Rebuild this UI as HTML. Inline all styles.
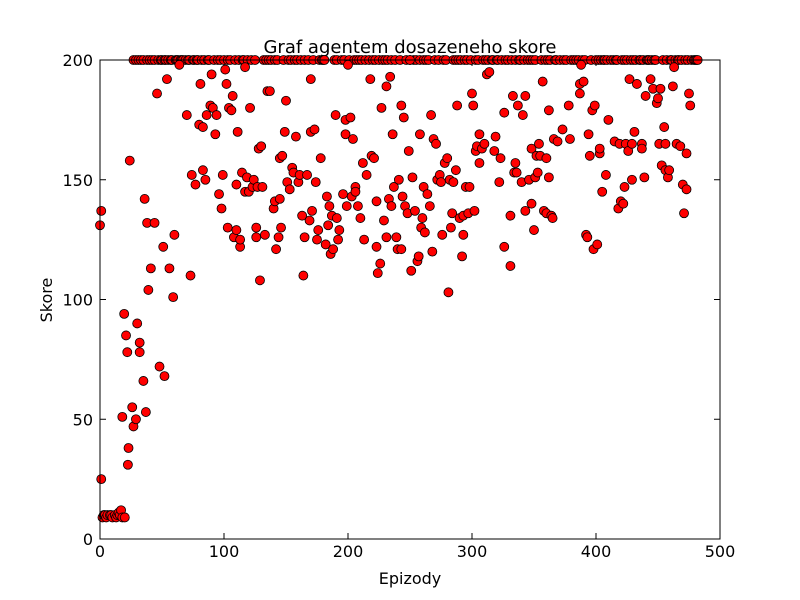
<!DOCTYPE html>
<html><head><meta charset="utf-8"><style>
body{margin:0;background:#fff}
svg{display:block;font-family:"DejaVu Sans","Liberation Sans",sans-serif}
</style></head><body>
<svg id="chart" width="800" height="600" xmlns="http://www.w3.org/2000/svg">
<rect width="800" height="600" fill="#fff"/>
<text x="410" y="53" font-size="18" text-anchor="middle">Graf agentem dosazeneho skore</text>
<text x="410" y="584" font-size="16" text-anchor="middle">Epizody</text>
<text transform="translate(52,300) rotate(-90)" font-size="16" text-anchor="middle">Skore</text>
<g id="ticks"></g>
<g id="points"></g>
<rect x="100" y="60" width="620" height="479" fill="none" stroke="#000" stroke-width="1"/>
</svg>
<script>
const xTicks=[0,100,200,300,400,500];
const yTicks=[0,50,100,150,200];
const topEpisodes=[27,29,31,33,35,38,40,42,44,47,49,50,52,53,55,57,58,61,62,63,65,66,67,69,71,72,75,76,78,79,82,84,87,88,92,95,97,100,103,105,109,112,115,116,119,122,125,132,134,136,138,141,143,148,152,154,157,159,162,165,168,172,177,179,180,181,189,191,195,197,201,205,207,209,211,214,217,220,222,225,228,230,232,235,238,242,247,250,253,255,258,261,263,265,270,273,277,279,285,287,289,291,294,296,299,303,305,309,311,313,316,317,320,321,324,327,329,332,335,338,339,342,345,347,349,351,356,359,361,363,367,368,371,374,376,380,382,384,386,389,391,396,400,402,404,406,407,409,412,414,416,417,421,423,425,428,430,432,435,436,438,441,442,443,445,447,448,454,457,460,461,464,466,467,469,472,474,477,479,480,481,482];
const episodes=[0,1,1,2,3,4,5,6,8,9,10,12,13,14,15,16,17,18,20,18,19.5,21,22,22.5,23,24,26,27,29,30,32,32,35,36,37,38,39,41,44,46,48,51,52,54,56,59,60,64,70,73,74,77,80,81,83,83,85,86,89,90,91,93,94,96,98,99,101,102,103,104,106,107,108,110,110,111,113,113,114.5,117,117,118.5,120,121,123,124,126,126,127,128,129,130,131,133,135,137,140,141,142,144,145,145,146,147,149,150,151,153,155,156,158,160,161,163,164,165,167,169,170,170,171,173,174,175,176,178,182,183,184,185,186,187,188,190,191,192,193,196,198,198,199,200,202,203,204,206,206,208,210,212,213,215,218,219,221,223,223,224,226,227,229,231,231,233,234,235,236,237,239,240,241,243,243,244,245,246,248,249,250,251,252,254,256,257,258,259,260,261,262,264,266,267,268,269,271,272,274,275,276,278,280,281,282,283,284,285,287,288,290,292,293,293,295,297,298,300,301,302,303,304,306,306,308,310,312,314,318,319,322,323,326,326,331,331,333,334,335,336,337,340,341,343,343,346,348,348,350,351,352,353,354,355,357,358,360,360,362,362,364,365,366,369,373,378,379,387,387,388,390,392,393,394,395,397,398,399,401,403,403,405,408,410,415,418,419,420,422,423,424,426,427,429,429,431,433,437,437,439,440,444,446,449,450,451,452,453,455,456,456,458,459,462,463,465,468,470,471,473,473,475,476];
const scores=[131,137,25,9,10,10,9,10,10,10,9,10,9,10,11,10,12,9,9,51,94,85,78,31,38,158,55,47,50,90,78,82,66,142,53,132,104,113,132,186,72,122,68,192,113,101,127,198,177,110,152,148,173,190,172,154,150,177,181,194,180,169,177,144,138,152,196,190,130,180,179,185,126,129,148,170,122,125,153,197,145,151,145,180,147,150,126,130,147,163,108,164,147,127,187,187,138,141,121,126,159,142,130,160,170,183,149,146,155,153,168,149,152,135,110,126,152,133,192,170,137,171,149,125,129,159,123,143,131,139,119,135,121,177,134,125,129,144,175,169,139,198,176,143,167,147,145,139,134,157,125,152,192,160,159,122,141,111,115,180,133,189,126,142,193,139,169,147,126,121,150,181,121,143,176,139,136,162,200,112,151,137,116,118,169,130,134,147,128,144,139,177,120,167,165,150,152,149,127,157,159,103,150,130,136,149,154,181,134,118,127,135,147,136,147,186,181,137,162,164,169,157,163,165,194,195,162,168,149,159,178,122,114,135,185,153,157,153,181,149,177,185,137,150,163,140,129,151,160,153,165,160,191,137,159,136,179,151,135,134,167,166,171,181,167,186,190,198,191,127,126,169,160,179,121,181,123,161,163,145,152,175,166,138,165,141,140,147,165,162,192,165,150,170,190,165,163,151,185,192,188,182,184,165,188,156,172,154,165,151,154,189,197,165,164,148,136,146,161,186,181];
const X=v=>100+v*1.24, Y=v=>539-v*2.395;
const NS="http://www.w3.org/2000/svg";
const tg=document.getElementById('ticks');
xTicks.forEach(t=>{
  const l=document.createElementNS(NS,'line');
  
  
  l.setAttribute('x1',X(t));l.setAttribute('x2',X(t));l.setAttribute('y1',539);l.setAttribute('y2',533);l.setAttribute('stroke','#000');tg.appendChild(l);
  const l2=l.cloneNode();l2.setAttribute('y1',60);l2.setAttribute('y2',66);tg.appendChild(l2);
  const tx=document.createElementNS(NS,'text');
  
  
  tx.setAttribute('x',X(t));tx.setAttribute('y',557);tx.setAttribute('font-size','16');tx.setAttribute('text-anchor','middle');tx.textContent=t;tg.appendChild(tx);
});
yTicks.forEach(t=>{
  const l=document.createElementNS(NS,'line');
  
  
  l.setAttribute('x1',100);l.setAttribute('x2',106);l.setAttribute('y1',Y(t));l.setAttribute('y2',Y(t));l.setAttribute('stroke','#000');tg.appendChild(l);
  const l2=l.cloneNode();l2.setAttribute('x1',714);l2.setAttribute('x2',720);tg.appendChild(l2);
  const tx=document.createElementNS(NS,'text');
  
  
  tx.setAttribute('x',93);tx.setAttribute('y',Y(t)+6);tx.setAttribute('font-size','16');tx.setAttribute('text-anchor','end');tx.textContent=t;tg.appendChild(tx);
});
const pg=document.getElementById('points');
function dot(e,s){
  const c=document.createElementNS(NS,'circle');
  
  
  c.setAttribute('cx',X(e));c.setAttribute('cy',Y(s));c.setAttribute('r',4.5);
  c.setAttribute('fill','#ff0000');c.setAttribute('stroke','#000');c.setAttribute('stroke-width','0.8');
  pg.appendChild(c);
}
topEpisodes.forEach(e=>dot(e,200));
episodes.forEach((e,i)=>dot(e,scores[i]));
</script>
</body></html>
